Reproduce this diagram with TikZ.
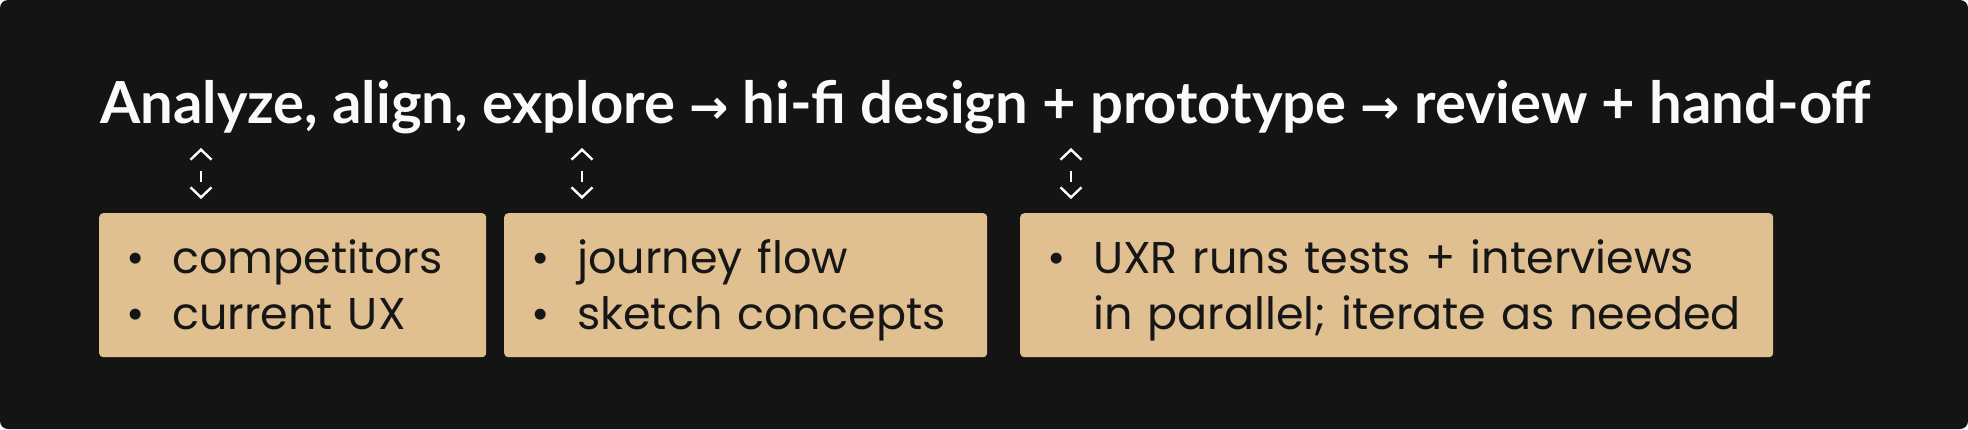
\documentclass[tikz,border=0pt]{standalone}
\usepackage{fontspec}
\setmainfont{Poppins}
\newfontfamily\titlefont{Lato}
\newfontfamily\arrowfont{DejaVu Sans}
\usetikzlibrary{arrows.meta,positioning}
\definecolor{bg}{HTML}{141414}
\definecolor{sand}{HTML}{E0C090}
\definecolor{ink}{HTML}{161616}
\tikzset{
  panel/.style={fill=sand, rounded corners=4pt, inner xsep=27pt, inner ysep=0pt,
    minimum height=144pt, text height=40pt, text depth=64pt, align=left,
    anchor=north west, text=ink, font=\fontsize{44.5}{56}\selectfont},
  link/.style={draw=white, line width=2.4pt, dash pattern=on 0pt off 20pt on 11pt off 20pt,
    {Straight Barb[length=10pt,width=21pt]}-{Straight Barb[length=10pt,width=21pt]}},
}
\newcommand{\bul}{\makebox[46pt][l]{•}}
\newcommand{\thento}{{\arrowfont\fontsize{47}{47}\selectfont →}}

\begin{document}
\begin{tikzpicture}[x=1pt,y=-1pt]
  \useasboundingbox (0,0) rectangle (1968,429);
  \fill[white] (0,0) rectangle (1968,429);
  \fill[bg, rounded corners=8pt] (0,0) rectangle (1968,429);
  % phases
  \node (title) [anchor=base west, inner sep=0pt, text=white!98!black,
    font=\titlefont\fontsize{58}{62}\selectfont\bfseries] at (100,123)
    {Analyze, align, explore \thento{} hi-fi design + prototype \thento{} review + hand-off};
  % what happens in each phase
  \node (research) [panel, text width=333pt] at (99,213) {\bul competitors\\\bul current UX};
  \node (explore) [panel, text width=429pt] at (504,213) {\bul journey flow\\\bul sketch concepts};
  \node (testing) [panel, text width=699pt] at (1020,213)
    {\bul UXR runs tests + interviews\\\hspace*{46pt}\mbox{in parallel; iterate as needed}};
  % links
  \coordinate (up1) at (201,148);
  \coordinate (up2) at (582,148);
  \coordinate (up3) at (1071,148);
  \draw[link] (up1) -- ([yshift=14pt]up1 |- research.north);
  \draw[link] (up2) -- ([yshift=14pt]up2 |- explore.north);
  \draw[link] (up3) -- ([yshift=14pt]up3 |- testing.north);
\end{tikzpicture}
\end{document}
